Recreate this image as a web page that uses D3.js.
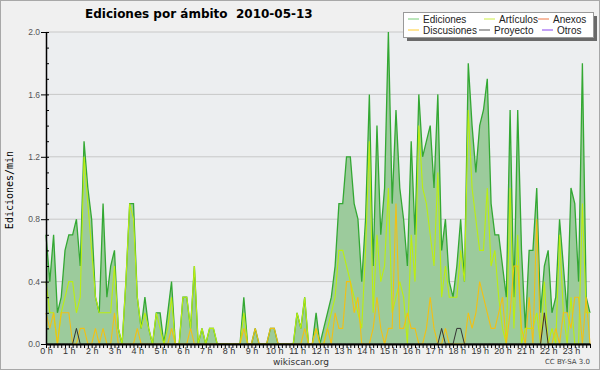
<!DOCTYPE html>
<html>
<head>
<meta charset="utf-8">
<script src="https://cdn.jsdelivr.net/npm/d3@7"></script>
<style>
  body { margin: 0; background: #f0f0f0; }
  svg { display: block; }
</style>
</head>
<body>
<svg id="chart" width="600" height="370"></svg>
<script>
// edits per minute, one value every 10 minutes (6 per hour, 0h..23h)
var ediciones = [
  0.7,0.4,0.7,0.2,0.3,0.6,  0.7,0.7,0.8,0.5,1.3,1.0,  0.8,0.3,0.2,0.9,0.3,0.5,
  0.6,0.1,0,0.4,0.9,0.9,    0.3,0.1,0.3,0.1,0,0.2,    0.2,0,0.2,0.4,0,0,
  0.3,0.3,0.1,0.5,0,0.1,    0,0.1,0.1,0,0,0,          0,0,0,0,0.3,0,
  0,0.1,0,0,0,0.1,          0.1,0,0,0,0,0,            0.2,0.1,0.3,0,0,0.2,
  0,0.1,0.2,0.3,0.5,0.9,    0.9,1.2,1.2,0.9,0.8,0.4,  0.8,1.6,0.5,1.4,0.7,1.0,
  2.0,0.9,1.5,1.0,0.8,0.5,  1.3,0.7,1.6,1.2,1.3,1.4,  1.0,1.6,0.6,0.8,0.4,0.3,
  0.5,0.8,0.4,1.8,1.4,1.1,  1.4,1.5,1.7,0.9,0.7,0.7,  0.5,0.3,1.5,0.3,1.5,0.6,
  0.1,0.6,0.6,1.0,0.2,0.5,  0.6,0.2,0.3,0.8,0.5,0.2,  1.0,0.9,0.4,1.8,0.3,0.2
];
var articulos = [
  0.4,0.2,0.2,0,0.2,0.3,    0.4,0.4,0.2,0.3,1.2,0.9,  0.6,0.3,0.2,0.2,0.2,0.2,
  0.5,0.1,0,0.4,0.9,0.8,    0.3,0.1,0.2,0.1,0,0.2,    0.1,0,0.1,0.3,0,0,
  0.3,0.3,0.1,0.5,0,0.1,    0,0.1,0.1,0,0,0,          0,0,0,0,0.2,0,
  0,0,0,0,0,0,              0,0,0,0,0,0,              0.2,0.1,0.3,0,0,0.1,
  0,0,0.1,0.2,0.3,0.6,      0.6,0.5,0.4,0.3,0.2,0.1,  0.6,1.3,0.2,0.7,0.4,0.5,
  1.0,0.2,0.3,0.4,0.3,0,    0.7,0.4,1.4,1.0,0.9,0.7,  0.5,1.1,0.3,0.5,0.3,0.3,
  0.3,0.6,0.4,1.5,1.0,0.8,  0.6,0.6,1.0,0.5,0.6,0.3,  0.1,0,1.0,0.1,0.7,0,
  0.1,0.1,0.1,0.2,0,0.4,    0,0.1,0,0.7,0.2,0,        0.3,0,0,0.9,0.2,0.2
];
var discusiones = [
  0.2,0.1,0.2,0,0.2,0.2,    0.2,0,0,0.1,0.1,0,        0,0.1,0,0.1,0,0,
  0.2,0,0,0,0,0,            0.1,0,0,0,0,0,            0,0,0,0.1,0,0,
  0,0,0.1,0,0,0,            0,0,0,0,0,0,              0,0,0,0,0.1,0,
  0,0.1,0,0,0,0.1,          0.1,0,0,0,0,0,            0,0,0.1,0,0,0.1,
  0,0,0.1,0,0.2,0.1,        0.1,0.4,0.4,0.2,0.3,0,    0,0,0.1,0.3,0.1,0,
  0.1,0.1,0.9,0.1,0.1,0.2,  0.1,0.1,0,0,0.1,0.3,      0.1,0,0,0.1,0,0,
  0,0,0,0.2,0.1,0.2,        0.4,0.3,0.2,0.1,0.1,0.2,  0.3,0,0.2,0.5,0.5,0.1,
  0,0.3,0,0.8,0,0.2,        0,0,0.1,0,0.2,0.2,        0.1,0.3,0.3,0,0.3,0
];
var proyecto = [
  0,0,0,0,0,0,    0,0,0.1,0,0,0,      0,0,0,0,0,0,    0,0,0,0,0,0,
  0,0,0,0,0,0,    0,0,0,0,0,0,        0,0,0,0,0,0,    0,0,0,0,0,0,
  0,0,0,0,0,0,    0,0,0,0,0,0,        0,0,0,0,0,0,    0,0,0,0,0,0,
  0,0,0,0,0,0,    0,0,0,0,0,0,        0,0,0,0,0,0,    0,0,0,0,0,0,
  0,0,0,0,0,0,    0,0,0.1,0,0,0,      0.1,0.1,0,0,0,0,  0,0,0,0,0,0,
  0,0,0,0,0,0,    0,0,0,0,0,0.2,      0,0,0,0,0,0,    0,0,0,0,0,0
];

var hours = ["0 h","1 h","2 h","3 h","4 h","5 h","6 h","7 h","8 h","9 h","10 h","11 h",
             "12 h","13 h","14 h","15 h","16 h","17 h","18 h","19 h","20 h","21 h","22 h","23 h"];
var yTicks = [0, 0.4, 0.8, 1.2, 1.6, 2.0];

var legendNames = ["Ediciones", "Artículos", "Anexos", "Discusiones", "Proyecto", "Otros"];
var legendColors = ["#77cc77", "#ccee44", "#ee7744", "#ffcc33", "#555555", "#8844ee"];

// plot box
var plotLeft = 46, plotRight = 590, plotTop = 32, plotBottom = 344;

var svg = d3.select("#chart");

// page background and border
svg.append("rect")
    .attr("x", 0.5).attr("y", 0.5)
    .attr("width", 599).attr("height", 369)
    .attr("fill", "#f0f0f0")
    .attr("stroke", "#a8a8a8");

svg.append("rect")
    .attr("x", plotLeft).attr("y", plotTop)
    .attr("width", plotRight - plotLeft).attr("height", plotBottom - plotTop)
    .attr("fill", "#eceef0");

var x = d3.scaleLinear().domain([0, ediciones.length - 1]).range([plotLeft, plotRight]);
var y = d3.scaleLinear().domain([0, 2]).range([plotBottom, plotTop]);

// horizontal grid
svg.append("g").selectAll("line")
    .data(yTicks.slice(1))
    .enter().append("line")
    .attr("x1", plotLeft).attr("x2", plotRight)
    .attr("y1", function (d) { return y(d); })
    .attr("y2", function (d) { return y(d); })
    .attr("stroke", "#c8c8c8")
    .attr("stroke-width", 1);

// total edits area
var area = d3.area()
    .x(function (d, i) { return x(i); })
    .y0(y(0))
    .y1(function (d) { return y(d); });

svg.append("path")
    .datum(ediciones)
    .attr("d", area)
    .attr("fill", "#9ccb9c");

var line = d3.line()
    .x(function (d, i) { return x(i); })
    .y(function (d) { return y(d); });

var series = [
    { values: ediciones, color: "#33a833", width: 1.3 },
    { values: articulos, color: "#bbee11", width: 1.1 },
    { values: discusiones, color: "#f2c014", width: 1.1 },
    { values: proyecto, color: "#333333", width: 1 }
];

series.forEach(function (s) {
    svg.append("path")
        .datum(s.values)
        .attr("d", line)
        .attr("fill", "none")
        .attr("stroke", s.color)
        .attr("stroke-width", s.width);
});

// x axis: a tick every 10 minutes, label every hour
var xAxis = d3.axisBottom(x)
    .tickValues(d3.range(ediciones.length))
    .tickSize(4)
    .tickSizeOuter(0)
    .tickFormat(function (d) { return d % 6 === 0 ? hours[d / 6] : ""; });

var gx = svg.append("g")
    .attr("transform", "translate(0," + plotBottom + ")")
    .call(xAxis);
gx.select(".domain").attr("stroke", "#000").attr("stroke-width", 2);
gx.selectAll(".tick line").attr("stroke", "#000");
gx.selectAll(".tick text")
    .attr("y", 4)
    .attr("font-family", "Liberation Sans")
    .attr("font-size", 9)
    .attr("fill", "#333");

// y axis
var yAxis = d3.axisLeft(y)
    .tickValues(yTicks)
    .tickSize(5)
    .tickSizeOuter(0)
    .tickFormat(d3.format(".1f"));

var gy = svg.append("g")
    .attr("transform", "translate(" + plotLeft + ",0)")
    .call(yAxis);
gy.select(".domain").attr("stroke", "#000").attr("stroke-width", 1.5);
gy.selectAll(".tick text")
    .attr("x", -6)
    .attr("font-family", "Liberation Sans")
    .attr("font-size", 8.5)
    .attr("fill", "#555");

// minor ticks inside the plot
var gyMinor = svg.append("g")
    .attr("transform", "translate(" + plotLeft + ",0)")
    .call(d3.axisRight(y).tickValues(d3.range(0, 21).map(function (d) { return d / 10; }))
        .tickSize(3).tickSizeOuter(0).tickFormat(""));
gyMinor.select(".domain").remove();

// y label
svg.append("text")
    .attr("transform", "translate(13,190) rotate(-90)")
    .attr("text-anchor", "middle")
    .attr("font-family", "DejaVu Sans Mono")
    .attr("font-size", 10)
    .attr("fill", "#000")
    .text("Ediciones/min");

// title
svg.append("text")
    .attr("x", 85).attr("y", 18)
    .attr("font-family", "DejaVu Sans")
    .attr("font-weight", "bold")
    .attr("font-size", 12)
    .attr("fill", "#000")
    .style("white-space", "pre")
    .text("Ediciones por ámbito  2010-05-13");

// footer
svg.append("text")
    .attr("x", 301).attr("y", 365)
    .attr("text-anchor", "middle")
    .attr("font-family", "DejaVu Sans")
    .attr("font-size", 9)
    .attr("fill", "#333")
    .text("wikiscan.org");

svg.append("text")
    .attr("x", 590).attr("y", 364)
    .attr("text-anchor", "end")
    .attr("font-family", "DejaVu Sans")
    .attr("font-size", 7)
    .attr("fill", "#444")
    .text("CC BY-SA 3.0");

// legend
var legend = svg.append("g");
legend.append("rect")
    .attr("x", 407).attr("y", 16)
    .attr("width", 190).attr("height", 25)
    .attr("fill", "#6a6a6a");
legend.append("rect")
    .attr("x", 403.5).attr("y", 12.5)
    .attr("width", 190).attr("height", 25)
    .attr("fill", "#ffffff")
    .attr("stroke", "#999");

// sample line start x for each entry, and row of each entry
var entryX = [408, 484, 538, 408, 479, 542];
var entryRow = [0, 0, 0, 1, 1, 1];
var rowY = [19, 30];
legendNames.forEach(function (name, i) {
    var cx = entryX[i], cy = rowY[entryRow[i]];
    legend.append("line")
        .attr("x1", cx).attr("x2", cx + 11)
        .attr("y1", cy).attr("y2", cy)
        .attr("stroke", legendColors[i])
        .attr("stroke-width", 1);
    legend.append("text")
        .attr("x", cx + 15).attr("y", cy + 4)
        .attr("font-family", "Liberation Sans")
        .attr("font-size", 10)
        .attr("fill", "#222")
        .text(name);
});
</script>
</body>
</html>
